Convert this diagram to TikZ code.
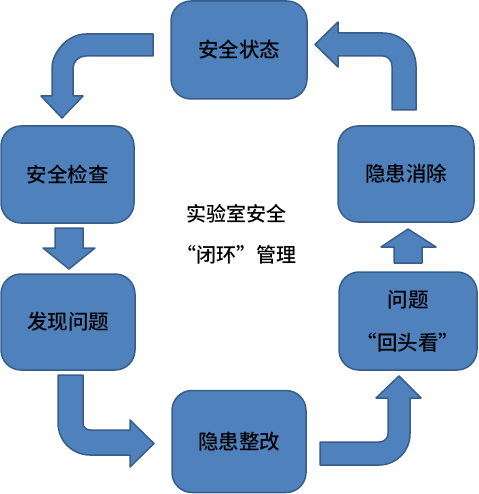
\documentclass[tikz,border=0pt]{standalone}
\usepackage{fontspec}
\newfontfamily\cjk{Noto Sans CJK SC Medium}
\definecolor{boxfill}{HTML}{4F81BD}
\definecolor{boxline}{HTML}{385D8A}
\tikzset{
  stage/.style={draw=boxline, fill=boxfill, line width=1.5pt, rounded corners=20pt,
    inner sep=0pt, align=center, font=\cjk\fontsize{20.5}{43}\selectfont, text=black},
  blockarrow/.style={draw=boxline, fill=boxfill, line width=1.5pt, line join=round},
  centertext/.style={align=center, font=\cjk\fontsize{20}{41}\selectfont, text=black}
}
\begin{document}
\begin{tikzpicture}[x=1pt,y=-1pt]
\useasboundingbox (0,0) rectangle (478,494);
% boxes
\node[stage, minimum width=136pt, minimum height=98pt] (s1) at (239,50) {安全状态};
\node[stage, minimum width=133pt, minimum height=97pt] (s2) at (67.5,174.5) {安全检查};
\node[stage, minimum width=134pt, minimum height=96pt] (s3) at (68,322) {发现问题};
\node[stage, minimum width=134pt, minimum height=102pt] (s4) at (239,441.5) {隐患整改};
\node[stage, minimum width=138pt, minimum height=98pt] (s5) at (408,321) {问题\\“回头看”};
\node[stage, minimum width=136pt, minimum height=96pt] (s6) at (406,174) {隐患消除};
% centre text
\node[centertext] (c) at (236,234) {实验室安全\\“闭环”管理};
% top-left bent arrow (s1 -> s2)
\draw[blockarrow] (153,34) -- (86,34) .. controls (67.2,34) and (52,52.8) .. (52,68)
  -- (52,96) -- (41,96) -- (62,118) -- (83,96) -- (73,96) -- (73,68)
  .. controls (73,61.4) and (78.8,56) .. (86,56) -- (153,56) -- cycle;
% down arrow (s2 -> s3)
\draw[blockarrow] (55,228) -- (83,228) -- (83,248) -- (95,248) -- (69,269) -- (43,248) -- (55,248) -- cycle;
% bottom-left bent arrow (s3 -> s4)
\draw[blockarrow] (58,375) -- (83,375) -- (83,423) .. controls (83,426.9) and (86.1,430) .. (90,430)
  -- (130,430) -- (130,420) -- (154,443.5) -- (130,467) -- (130,455) -- (90,455)
  .. controls (72.3,455) and (58,440.7) .. (58,423) -- cycle;
% bottom-right bent arrow (s4 -> s5)
\draw[blockarrow] (320,442) -- (379,442) .. controls (384,442) and (388,438.4) .. (388,434)
  -- (388,398) -- (376,398) -- (399,376) -- (421,398) -- (410,398) -- (410,434)
  .. controls (410,451.1) and (396.1,465) .. (379,465) -- (320,465) -- cycle;
% up arrow (s5 -> s6)
\draw[blockarrow] (394,263) -- (422,263) -- (422,247) -- (436,247) -- (408,229) -- (381,247) -- (394,247) -- cycle;
% top-right bent arrow (s6 -> s1)
\draw[blockarrow] (392,110) -- (416,110) -- (416,66) .. controls (416,47.8) and (401.2,33) .. (383,33)
  -- (338,33) -- (338,22) -- (315,44.5) -- (338,67) -- (338,56) -- (383,56)
  .. controls (388,56) and (392,60.5) .. (392,66) -- cycle;
\end{tikzpicture}
\end{document}
